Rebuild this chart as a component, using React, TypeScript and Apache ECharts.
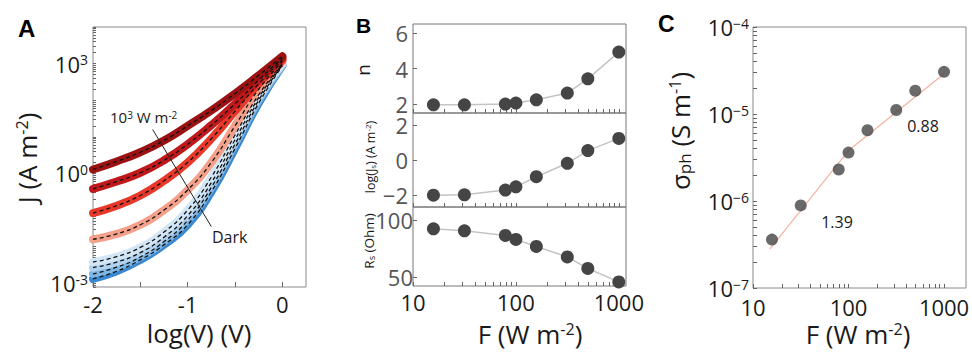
import React, { useEffect, useRef } from "react";
import * as echarts from "echarts";

// ---------- Panel A data: log10(J) vs log10(V) ----------
const logV = [-2, -1.75, -1.5, -1.25, -1, -0.75, -0.5, -0.25, 0];
const jCurve1 = [0.11, 0.33, 0.58, 0.9, 1.3, 1.72, 2.18, 2.68, 3.2];
const jCurve2 = [-0.42, -0.22, 0.02, 0.36, 0.8, 1.32, 1.9, 2.55, 3.15];
const jCurve3 = [-1.08, -0.88, -0.6, -0.2, 0.3, 0.95, 1.7, 2.45, 3.1];
const jCurve4 = [-1.8, -1.65, -1.4, -1.0, -0.45, 0.3, 1.3, 2.3, 3.05];
const jCurve5 = [-2.42, -2.27, -2.02, -1.6, -1.0, -0.1, 1.05, 2.15, 3.0];
const jCurve6 = [-2.57, -2.42, -2.16, -1.74, -1.15, -0.25, 0.92, 2.07, 2.98];
const jCurve7 = [-2.74, -2.56, -2.28, -1.86, -1.28, -0.38, 0.8, 2.0, 2.96];
const jCurve8 = [-2.88, -2.67, -2.36, -1.95, -1.4, -0.5, 0.68, 1.92, 2.94];
const curveColors = ["#9c1212", "#c0191c", "#e8382a", "#f4a08a", "#d3e6f5", "#b0d2ee", "#7db6e4", "#3a88cf"];
const arrowLogV = [-1.37, -0.75];
const arrowLogJ = [1.2, -1.45];

// ---------- Panel B / C data ----------
const irradiance = [15.8, 31.6, 79, 100, 158, 316, 500, 1000];
const idealityN = [1.96, 1.96, 2.0, 2.06, 2.24, 2.62, 3.42, 4.92];
const logJs = [-2.02, -2.0, -1.73, -1.54, -0.96, -0.19, 0.54, 1.24];
const seriesRs = [92.3, 90.6, 86.5, 83, 76.8, 67.6, 57.4, 45.6];
const sigmaPh = [3.6e-7, 8.9e-7, 2.3e-6, 3.6e-6, 6.5e-6, 1.11e-5, 1.85e-5, 3.05e-5];
const fitIrradiance = [15, 100, 1000];
const fitSigma = [2.8e-7, 3.8e-6, 2.9e-5];

// tick labels
const aXLabels = [-2, -1, 0];
const aXTicks = [-2, -1.5, -1, -0.5, 0];
const aYLabels = [-3, 0, 3];
const bXLabels = [1, 2, 3];
const bNLabels = [2, 4, 6];
const bJsLabels = [-2, 0, 2];
const bRsLabels = [50, 100];
const cYLabels = [-7, -6, -5, -4];

const FONT = '"Open Sans", "DejaVu Sans", sans-serif';
const BOLD = '"Liberation Sans", Arial, sans-serif';

function logMinor(lo: number, hi: number) {
  const out: number[] = [];
  for (let d = Math.floor(lo) - 1; d <= Math.ceil(hi); d++) {
    for (let k = 1; k < 10; k++) {
      const v = d + Math.log10(k);
      if (v >= lo - 1e-9 && v <= hi + 1e-9) out.push(v);
    }
  }
  return out;
}

const supRich = (size: number, color: string) => ({
  b: { fontSize: size, fontFamily: FONT, color },
  s: { fontSize: Math.round(size * 0.62), fontFamily: FONT, color, verticalAlign: "top" as const },
});

const tick = (custom: number[], len = 4) => ({
  show: true,
  inside: true,
  length: len,
  customValues: custom,
  lineStyle: { color: "#666", width: 1 },
});

const noLine = { show: false, onZero: false };

export default function App() {
  const ref = useRef<HTMLDivElement>(null);
  useEffect(() => {
    if (!ref.current) return;
    const chart = echarts.init(ref.current, undefined, { renderer: "svg" });

    const curves = [jCurve8, jCurve7, jCurve6, jCurve5, jCurve4, jCurve3, jCurve2, jCurve1];
    const colorsOrdered = [...curveColors].reverse();
    const thick = curves.map((c, i) => ({
      type: "line",
      xAxisIndex: 0,
      yAxisIndex: 0,
      smooth: true,
      symbol: "none",
      data: logV.map((x, j) => [x, c[j]]),
      lineStyle: { color: colorsOrdered[i], width: 8, cap: "round" },
      z: 2,
    }));
    const dashed = curves.map((c) => ({
      type: "line",
      xAxisIndex: 0,
      yAxisIndex: 0,
      smooth: true,
      symbol: "none",
      data: logV.map((x, j) => [x, c[j]]),
      lineStyle: { color: "#111", width: 1.3, type: [4, 3] },
      z: 3,
    }));

    const lf = irradiance.map((f) => Math.log10(f));
    const bSeries = (yIdx: number, vals: number[]) => ({
      type: "line",
      xAxisIndex: yIdx,
      yAxisIndex: yIdx,
      data: lf.map((x, i) => [x, vals[i]]),
      symbol: "circle",
      symbolSize: 13,
      itemStyle: { color: "#454545" },
      lineStyle: { color: "#c4c4c4", width: 1.5 },
      z: 3,
    });

    const bX = (idx: number, labels: boolean) => ({
      gridIndex: idx,
      type: "value",
      min: 1,
      max: 3.07,
      axisLine: noLine,
      splitLine: { show: false },
      axisTick: tick(logMinor(1, 3.07), 4),
      axisLabel: labels
        ? {
            customValues: bXLabels,
            formatter: (v: number) => String(Math.round(Math.pow(10, v))),
            fontSize: 22,
            fontFamily: FONT,
            color: "#1a1a1a",
            margin: 5,
          }
        : { show: false },
    });
    const bY = (idx: number, min: number, max: number, labels: number[], margin: number) => ({
      gridIndex: idx,
      type: "value",
      min,
      max,
      axisLine: noLine,
      splitLine: { show: false },
      axisTick: tick(labels, 4),
      axisLabel: {
        customValues: labels,
        formatter: (v: number) => (v < 0 ? "\u2212" + Math.abs(v) : String(v)),
        fontSize: 22,
        fontFamily: FONT,
        color: "#555",
        margin,
      },
    });

    const option: any = {
      animation: false,
      backgroundColor: "#fff",
      grid: [
        { left: 93, top: 27, width: 213, height: 260, show: true, borderColor: "#8a8a8a", borderWidth: 1, backgroundColor: "transparent", outerBoundsMode: "none" },
        { left: 413, top: 24, width: 213, height: 89, show: true, borderColor: "#777", borderWidth: 1, backgroundColor: "transparent", outerBoundsMode: "none" },
        { left: 413, top: 113, width: 213, height: 94, show: true, borderColor: "#777", borderWidth: 1, backgroundColor: "transparent", outerBoundsMode: "none" },
        { left: 413, top: 207, width: 213, height: 79, show: true, borderColor: "#777", borderWidth: 1, backgroundColor: "transparent", outerBoundsMode: "none" },
        { left: 753, top: 27, width: 213, height: 261, show: true, borderColor: "#8a8a8a", borderWidth: 1, backgroundColor: "transparent", outerBoundsMode: "none" },
      ],
      xAxis: [
        {
          gridIndex: 0,
          type: "value",
          min: -2,
          max: 0.25,
          axisLine: noLine,
          splitLine: { show: false },
          axisTick: tick(aXTicks, 5),
          axisLabel: {
            customValues: aXLabels,
            formatter: (v: number) => String(v),
            fontSize: 22,
            fontFamily: FONT,
            color: "#1a1a1a",
            margin: 6,
          },
        },
        bX(1, false),
        bX(2, false),
        bX(3, true),
        {
          gridIndex: 4,
          type: "value",
          min: 1,
          max: 3.23,
          axisLine: noLine,
          splitLine: { show: false },
          axisTick: tick(logMinor(1, 3.23), 4),
          axisLabel: {
            customValues: bXLabels,
            formatter: (v: number) => String(Math.round(Math.pow(10, v))),
            fontSize: 22,
            fontFamily: FONT,
            color: "#1a1a1a",
            margin: 8,
          },
        },
      ],
      yAxis: [
        {
          gridIndex: 0,
          type: "value",
          min: -3.1,
          max: 4,
          axisLine: noLine,
          splitLine: { show: false },
          axisTick: tick(logMinor(-3.1, 4), 3),
          axisLabel: {
            customValues: aYLabels,
            formatter: (v: number) => `{b|10}{s|${v}}`,
            rich: supRich(22, "#1a1a1a"),
            margin: 5,
          },
        },
        bY(1, 1.5, 6.5, bNLabels, 5),
        bY(2, -2.7, 2.7, bJsLabels, 5),
        bY(3, 42, 111.5, bRsLabels, 0),
        {
          gridIndex: 4,
          type: "value",
          min: -7,
          max: -4,
          axisLine: noLine,
          splitLine: { show: false },
          axisTick: tick(logMinor(-7, -4), 4),
          axisLabel: {
            customValues: cYLabels,
            formatter: (v: number) => `{b|10}{s|\u2212${Math.abs(v)}}`,
            rich: supRich(22, "#1a1a1a"),
            margin: 4,
          },
        },
      ],
      series: [
        ...thick,
        ...dashed,
        {
          type: "line",
          xAxisIndex: 0,
          yAxisIndex: 0,
          symbol: "none",
          data: arrowLogV.map((x, i) => [x, arrowLogJ[i]]),
          lineStyle: { color: "#222", width: 1 },
          z: 4,
        },
        bSeries(1, idealityN),
        bSeries(2, logJs),
        bSeries(3, seriesRs),
        {
          type: "line",
          xAxisIndex: 4,
          yAxisIndex: 4,
          symbol: "none",
          data: fitIrradiance.map((f, i) => [Math.log10(f), Math.log10(fitSigma[i])]),
          lineStyle: { color: "#f6b2a0", width: 1.2 },
          z: 2,
        },
        {
          type: "scatter",
          xAxisIndex: 4,
          yAxisIndex: 4,
          symbol: "circle",
          symbolSize: 12,
          data: irradiance.map((f, i) => [Math.log10(f), Math.log10(sigmaPh[i])]),
          itemStyle: { color: "#454545" },
          z: 3,
        },
      ],
      graphic: [
        { type: "text", left: 18, top: 16, style: { text: "A", font: `bold 24px ${BOLD}`, fill: "#000" } },
        { type: "text", left: 356, top: 15, style: { text: "B", font: `bold 21px ${BOLD}`, fill: "#000" } },
        { type: "text", left: 658, top: 12, style: { text: "C", font: `bold 23px ${BOLD}`, fill: "#000" } },
        // panel A titles
        {
          type: "text",
          x: 27,
          y: 158,
          rotation: Math.PI / 2,
          style: {
            text: "{t|J (A m}{s|-2}{t|)}",
            align: "center",
            verticalAlign: "middle",
            rich: { t: { fontSize: 26, fontFamily: FONT, fill: "#1a1a1a" }, s: { fontSize: 16, fontFamily: FONT, fill: "#1a1a1a", verticalAlign: "top" } },
          },
        },
        { type: "text", x: 199, y: 333, style: { text: "log(V) (V)", align: "center", verticalAlign: "middle", font: `26px ${FONT}`, fill: "#1a1a1a" } },
        {
          type: "text",
          x: 110,
          y: 117,
          style: {
            text: "{t|10}{s|3}{t| W m}{s|-2}",
            align: "left",
            verticalAlign: "middle",
            rich: { t: { fontSize: 15, fontFamily: FONT, fill: "#1a1a1a" }, s: { fontSize: 10, fontFamily: FONT, fill: "#1a1a1a", verticalAlign: "top" } },
          },
        },
        { type: "text", x: 212, y: 237, style: { text: "Dark", align: "left", verticalAlign: "middle", font: `16px ${FONT}`, fill: "#1a1a1a" } },
        // panel B titles
        { type: "text", x: 363, y: 70, rotation: Math.PI / 2, style: { text: "n", align: "center", verticalAlign: "middle", font: `19px ${FONT}`, fill: "#1a1a1a" } },
        {
          type: "text",
          x: 370,
          y: 157,
          rotation: Math.PI / 2,
          style: {
            text: "{t|log(J}{u|s}{t|) (A m}{s|-2}{t|)}",
            align: "center",
            verticalAlign: "middle",
            rich: {
              t: { fontSize: 12.5, fontFamily: FONT, fill: "#1a1a1a" },
              s: { fontSize: 8, fontFamily: FONT, fill: "#1a1a1a", verticalAlign: "top" },
              u: { fontSize: 8, fontFamily: FONT, fill: "#1a1a1a", verticalAlign: "bottom" },
            },
          },
        },
        {
          type: "text",
          x: 369,
          y: 241,
          rotation: Math.PI / 2,
          style: {
            text: "{t|R}{u|s}{t| (Ohm)}",
            align: "center",
            verticalAlign: "middle",
            rich: {
              t: { fontSize: 13.5, fontFamily: FONT, fill: "#1a1a1a" },
              u: { fontSize: 9, fontFamily: FONT, fill: "#1a1a1a", verticalAlign: "bottom" },
            },
          },
        },
        {
          type: "text",
          x: 530,
          y: 334,
          style: {
            text: "{t|F (W m}{s|-2}{t|)}",
            align: "center",
            verticalAlign: "middle",
            rich: { t: { fontSize: 26, fontFamily: FONT, fill: "#1a1a1a" }, s: { fontSize: 16, fontFamily: FONT, fill: "#1a1a1a", verticalAlign: "top" } },
          },
        },
        // panel C titles
        {
          type: "text",
          x: 680,
          y: 131,
          rotation: Math.PI / 2,
          style: {
            text: "{t|\u03c3}{u|ph}{t| (S m}{s|-1}{t|)}",
            align: "center",
            verticalAlign: "middle",
            rich: {
              t: { fontSize: 26, fontFamily: FONT, fill: "#1a1a1a" },
              s: { fontSize: 16, fontFamily: FONT, fill: "#1a1a1a", verticalAlign: "top" },
              u: { fontSize: 17, fontFamily: FONT, fill: "#1a1a1a", verticalAlign: "bottom" },
            },
          },
        },
        {
          type: "text",
          x: 858,
          y: 334,
          style: {
            text: "{t|F (W m}{s|-2}{t|)}",
            align: "center",
            verticalAlign: "middle",
            rich: { t: { fontSize: 26, fontFamily: FONT, fill: "#1a1a1a" }, s: { fontSize: 16, fontFamily: FONT, fill: "#1a1a1a", verticalAlign: "top" } },
          },
        },
        { type: "text", x: 837, y: 222, style: { text: "1.39", align: "center", verticalAlign: "middle", font: `16px ${FONT}`, fill: "#1a1a1a" } },
        { type: "text", x: 923, y: 126, style: { text: "0.88", align: "center", verticalAlign: "middle", font: `16px ${FONT}`, fill: "#1a1a1a" } },
      ],
    };

    chart.setOption(option);
    return () => chart.dispose();
  }, []);

  return <div ref={ref} style={{ position: "fixed", left: 0, top: 0, width: 972, height: 352 }} />;
}
